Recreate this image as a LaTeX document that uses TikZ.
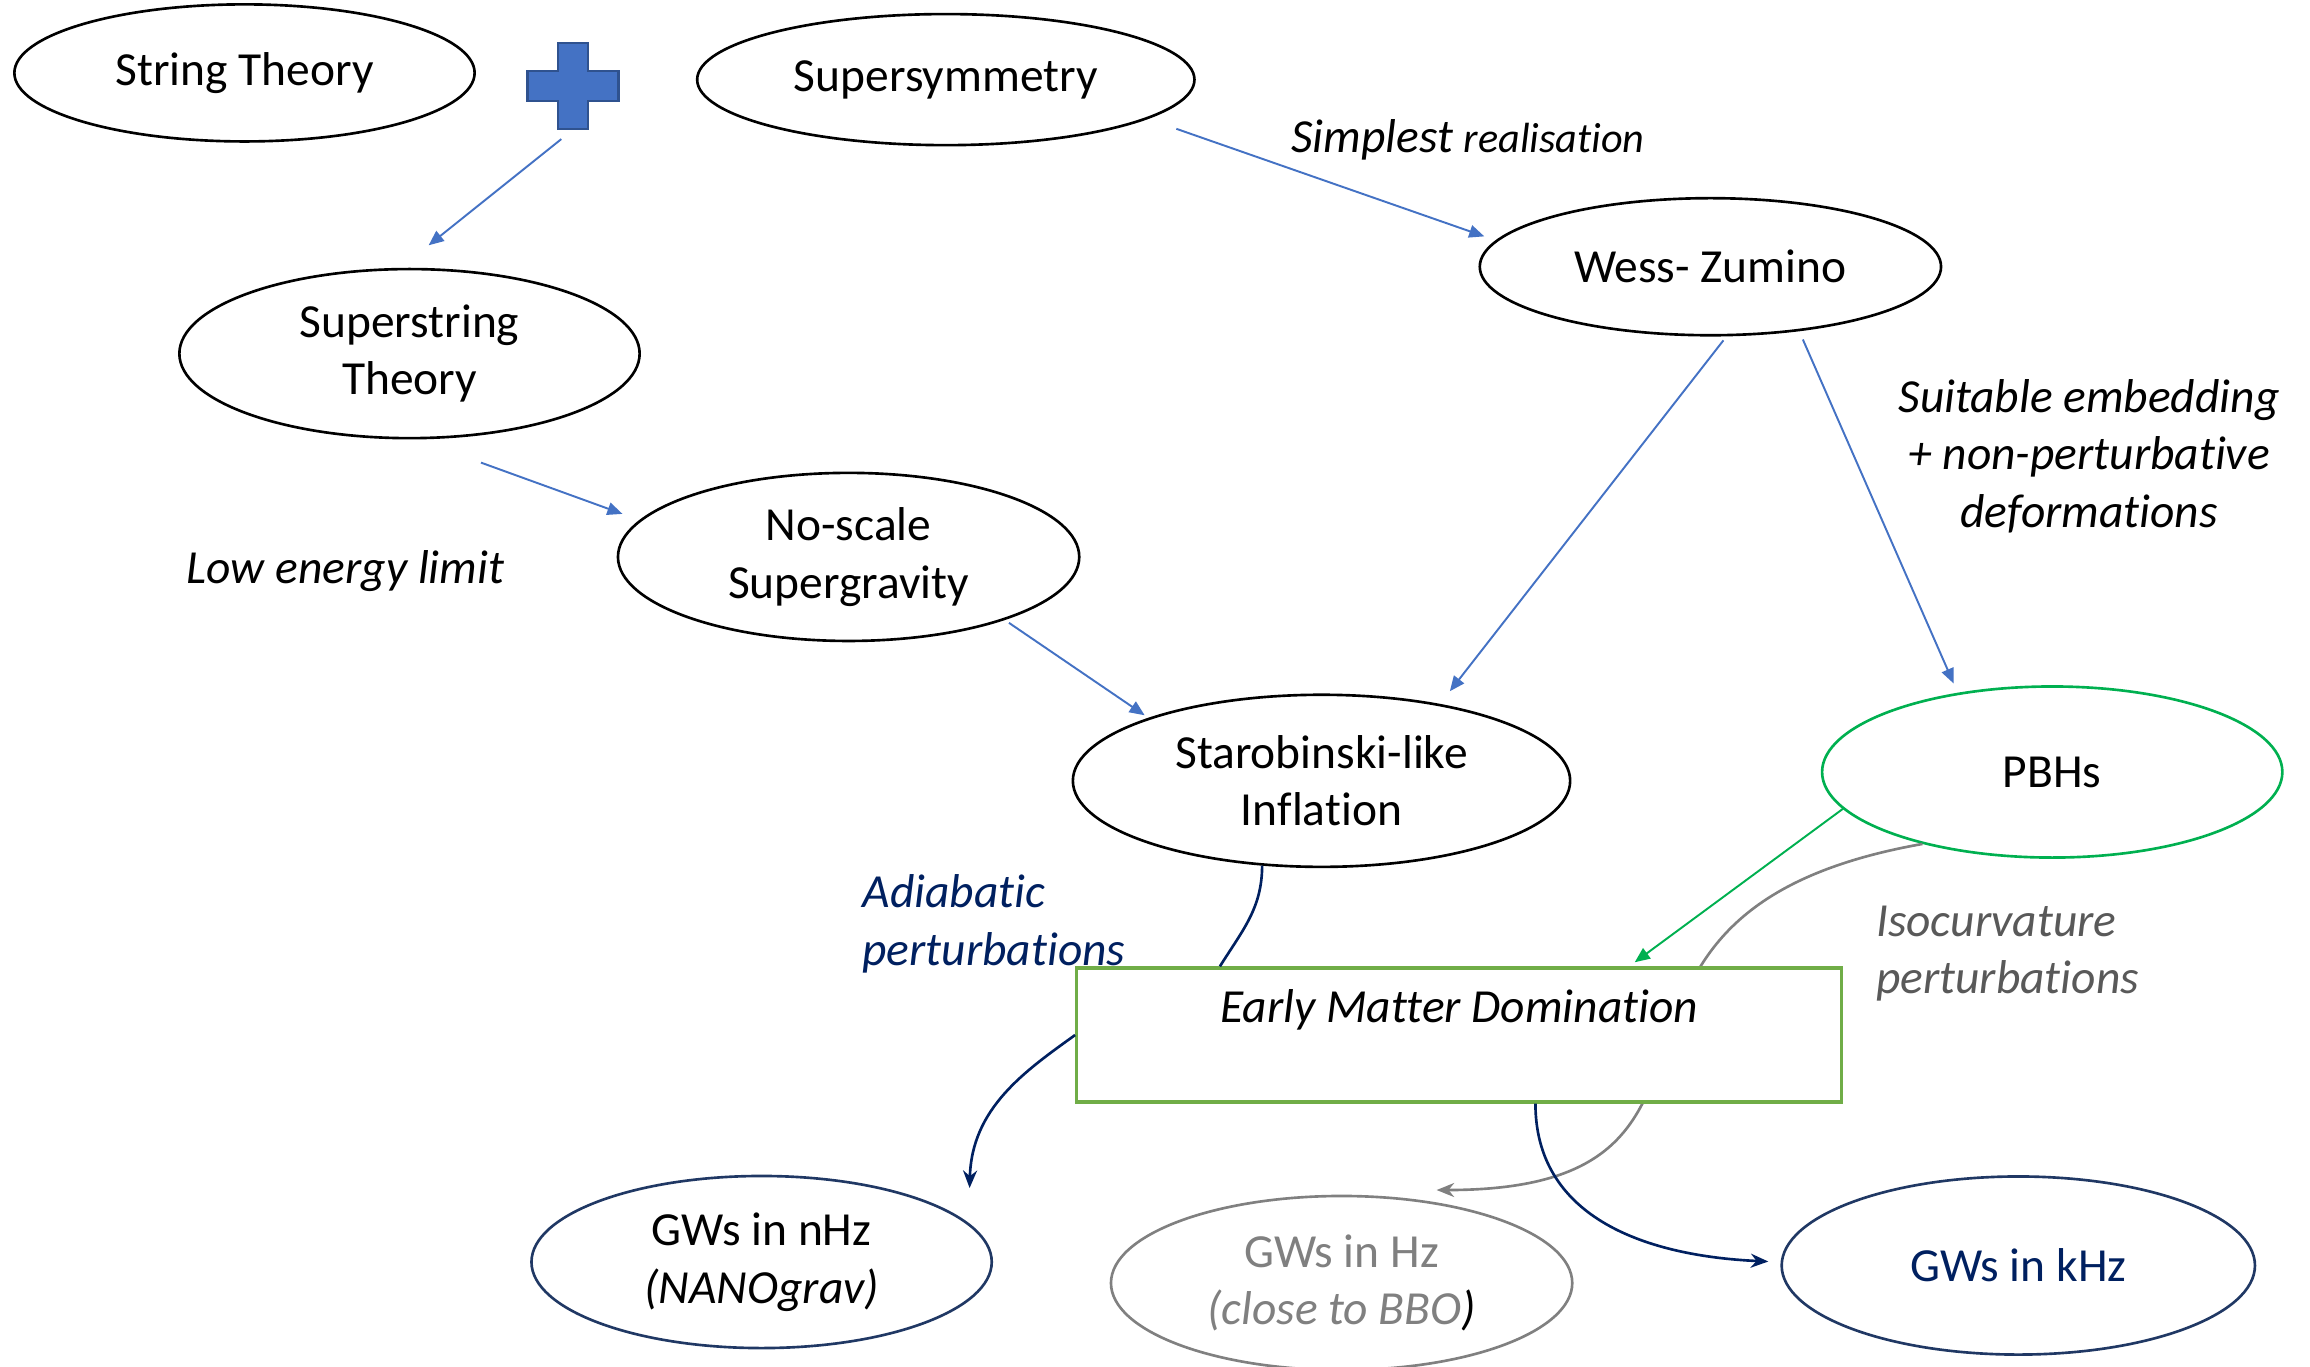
\documentclass[tikz,border=0pt]{standalone}
\usepackage{fontspec}
\setmainfont{Carlito}[Ligatures=NoCommon]
\usepackage{tikz}
\usetikzlibrary{arrows.meta}
\usetikzlibrary{shapes.geometric}

\definecolor{arrowblue}{HTML}{4472C4}
\definecolor{plusedge}{HTML}{2F528F}
\definecolor{pbhgreen}{HTML}{00B050}
\definecolor{boxgreen}{HTML}{70AD47}
\definecolor{navy}{HTML}{002060}
\definecolor{navyedge}{HTML}{203864}
\definecolor{midgray}{HTML}{808080}
\definecolor{textgray}{HTML}{595959}

\begin{document}
\begin{tikzpicture}[x=0.01cm, y=0.01cm,
            every node/.style={font=\fontsize{13.5}{16.4}\selectfont},
            bubble/.style={ellipse, draw, line width=0.75pt, fill=white, inner sep=0pt,
                align=center, minimum width=4.6cm, minimum height=1.37cm},
            remark/.style={font=\fontsize{13.5}{16.4}\selectfont\itshape, inner sep=0pt},
            link/.style={arrowblue, line width=0.55pt, -{Triangle[length=4.3pt, width=3.6pt]}},
            curvearr/.style={line width=0.75pt, -{Stealth[length=5pt, width=4pt]}}]
            \useasboundingbox (0, 0) rectangle (2310, -1366);
            % ellipses
            \node [bubble] (str) at (244.5, -72.9) {String Theory};
            \node [bubble, minimum width=4.97cm, minimum height=1.31cm] (susy) at (945.8, -79.6) {Supersymmetry};
            \node [bubble, minimum height=1.69cm] (sst) at (409.5, -353.6) {Superstring\\Theory};
            \node [bubble, minimum width=4.61cm] (wz) at (1710.4, -266.7) {Wess- Zumino};
            \node [bubble, minimum width=4.61cm, minimum height=1.68cm] (nsg) at (848.6, -556.9) {No-scale\\Supergravity};
            \node [bubble, minimum width=4.97cm, minimum height=1.72cm] (inf) at (1321.5, -780.8) {Starobinski-like\\Inflation};
            \node [bubble, draw=pbhgreen, minimum height=1.71cm] (pbh) at (2052.2, -772) {PBHs};
            \node [bubble, draw=navyedge, minimum height=1.72cm] (nhz) at (761.6, -1262) {GWs in nHz\\\textit{(NANOgrav)}};
            \node [bubble, draw=midgray, text=midgray, minimum width=4.61cm, minimum height=1.74cm] (hz) at (1341.6, -1283) {GWs in Hz\\\textit{(close to BBO\textcolor{black}{)}}};
            \node [bubble, draw=navyedge, text=navy, minimum width=4.73cm, minimum height=1.78cm] (khz) at (2018.3, -1265.5) {GWs in kHz};
            % plus sign
            \node [minimum width=0.91cm, minimum height=0.86cm, inner sep=0pt] (plus) at (573, -86) {};
            \filldraw [fill=arrowblue, draw=plusedge, line width=0.6pt] ([shift={(-15,43)}]plus.center) -- ++(30,0) -- ++(0,-28)
                -- ++(30.5,0) -- ++(0,-30) -- ++(-30.5,0) -- ++(0,-28) -- ++(-30,0) -- ++(0,28)
                -- ++(-30.5,0) -- ++(0,30) -- ++(30.5,0) -- cycle;
            \coordinate (nhztip) at ([shift={(208,74)}]nhz.center);
            \coordinate (hztip) at ([shift={(95,93)}]hz.center);
            \coordinate (khztip) at ([shift={(-250,4)}]khz.center);
            % isocurvature curve runs behind the box
            \draw [curvearr, midgray] (pbh.209) .. controls +(-390,-69) and +(352,0) .. (hztip);
            \node [draw=boxgreen, line width=0.9pt, fill=white, minimum width=7.646cm, minimum height=1.34cm,
                inner sep=0pt, align=center] (emd) at (1459.2, -1035) {\textit{Early Matter Domination}\\\mbox{}};
            % labels
            \node [remark] (simple) at (1468, -140) {Simplest {\fontsize{12}{14}\selectfont realisation}};
            \node [remark] (lowlim) at (345.5, -571) {Low energy limit};
            \node [remark, align=center] (embed) at (2089, -456) {Suitable embedding\\+ non-perturbative\\deformations};
            \node [remark, align=left, text=navy, anchor=west] (adiab) at (861.8, -924) {Adiabatic\\perturbations};
            \node [remark, align=left, text=textgray, anchor=west] (isocurv) at (1875.4, -953.5) {Isocurvature\\perturbations};
            % arrows
            \draw [link, shorten <=0.15cm, shorten >=0.36cm] (plus.south) -- (sst.96);
            \draw [link, shorten <=0.30cm, shorten >=0.12cm] (susy.-11) -- (wz.173);
            \draw [link, shorten <=0.68cm, shorten >=0.18cm] (sst.-85) -- (nsg.170);
            \draw [link, shorten <=0.05cm, shorten >=0.045cm] (nsg.-22) -- (inf.160);
            \draw [link, shorten <=0.05cm, shorten >=0.16cm] (wz.-77) -- (inf.33);
            \draw [link, shorten <=0.09cm, shorten >=0.10cm] (wz.-36) -- (pbh.140);
            \draw [link, pbhgreen, shorten >=0.07cm] (pbh.190) -- (emd.22);
            \draw [navy, line width=0.75pt] (inf.-125) to [out=-90, in=58] (emd.164);
            \draw [curvearr, navy] (emd.west) .. controls +(-50,-36) and +(2,80) .. (nhztip);
            \draw [curvearr, navy] (emd.-42.5) .. controls +(0,-110) and +(-130,6) .. (khztip);
        \end{tikzpicture}
\end{document}
